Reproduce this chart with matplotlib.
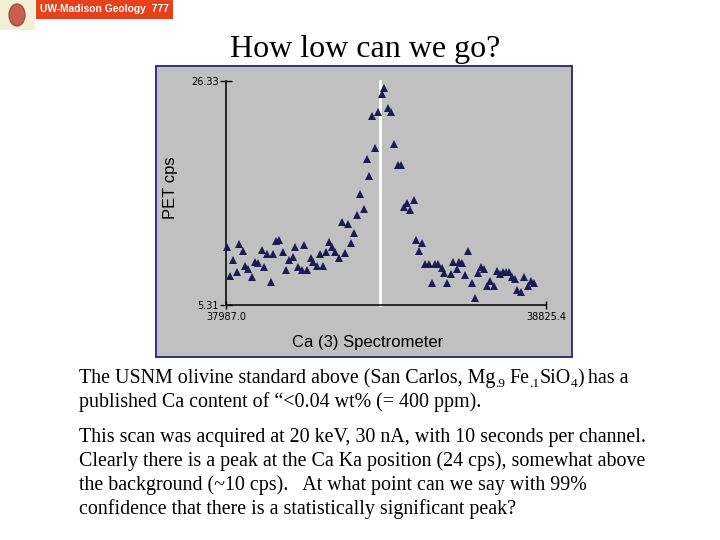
import matplotlib
matplotlib.use("Agg")
import matplotlib.pyplot as plt
from matplotlib.patches import Rectangle, Ellipse

# ---- data ----
spectrometer_pos = [
    37988.8, 37997.5, 38006.1, 38015.0, 38021.8, 38030.8, 38036.8, 38045.4, 38055.9, 38063.0,
    38071.6, 38080.5, 38086.6, 38093.6, 38104.1, 38110.9, 38118.0, 38126.6, 38135.6, 38144.2,
    38152.8, 38161.8, 38168.6, 38176.4, 38185.3, 38192.1, 38200.0, 38208.9, 38215.7, 38224.6,
    38233.3, 38240.4, 38249.0, 38256.9, 38264.7, 38272.6, 38282.3, 38290.1, 38298.8, 38306.6,
    38313.7, 38322.4, 38331.0, 38338.1, 38347.8, 38355.6, 38362.4, 38370.3, 38378.2, 38385.2,
    38396.5, 38401.7, 38410.7, 38419.3, 38428.0, 38436.9, 38445.5, 38453.4, 38462.0, 38469.9,
    38478.8, 38484.8, 38493.4, 38501.3, 38509.2, 38518.1, 38525.9, 38533.8, 38543.2, 38552.1,
    38558.2, 38566.8, 38575.7, 38582.5, 38591.4, 38598.2, 38606.1, 38614.0, 38621.8, 38630.7,
    38638.6, 38648.0, 38655.1, 38663.7, 38671.6, 38678.7, 38688.4, 38697.0, 38704.1, 38712.0,
    38719.8, 38728.5, 38735.5, 38744.2, 38750.2, 38759.1, 38767.8, 38777.5, 38786.1, 38794.0,
]
pet_cps = [
    10.77, 8.03, 9.53, 8.37, 11.03, 10.37, 8.96, 8.68, 7.91, 9.37,
    9.22, 10.46, 8.84, 10.09, 7.44, 10.09, 11.31, 11.40, 10.25, 8.59,
    9.53, 9.78, 10.72, 8.84, 8.59, 10.93, 8.59, 9.69, 9.37, 8.96,
    10.09, 8.96, 10.31, 11.19, 10.72, 10.25, 9.69, 13.06, 10.21, 12.87,
    11.09, 12.03, 13.74, 15.71, 14.28, 18.96, 17.43, 23.05, 19.99, 23.37,
    25.11, 25.62, 23.74, 23.37, 20.37, 18.40, 18.40, 14.52, 14.84, 14.21,
    15.15, 11.40, 10.40, 11.09, 9.15, 9.15, 7.34, 9.15, 9.15, 8.75,
    8.28, 7.40, 8.19, 9.31, 8.68, 9.31, 9.22, 8.12, 10.37, 7.34,
    5.94, 8.28, 8.90, 8.66, 7.12, 7.56, 7.12, 8.52, 8.19, 8.43,
    8.37, 8.37, 7.96, 7.72, 6.72, 6.56, 7.91, 7.09, 7.59, 7.40,
]
peak_position = 38390.5
x_limits = [37987.0, 38825.4]
y_limits = [5.31, 26.33]
x_tick_labels = ["37987.0", "38825.4"]
y_tick_labels = ["5.31", "26.33"]

title = "How low can we go?"
badge_text = "UW-Madison Geology  777"
# first line: (text, is_subscript, extra gap before in px)
para1_line1 = [
    ("The USNM olivine standard above (San Carlos, Mg", False, 0),
    (".9", True, 0),
    ("Fe", False, 4),
    (".1", True, 0),
    ("SiO", False, 0),
    ("4", True, 0),
    (")", False, 0),
    ("has a", False, 4),
]
para1_line2 = "published Ca content of \u201c<0.04 wt% (= 400 ppm)."
para2 = [
    "This scan was acquired at 20 keV, 30 nA, with 10 seconds per channel.",
    "Clearly there is a peak at the Ca Ka position (24 cps), somewhat above",
    "the background (~10 cps).   At what point can we say with 99%",
    "confidence that there is a statistically significant peak?",
]

W, H = 720, 540
fig = plt.figure(figsize=(7.2, 5.4), dpi=100)
fig.patch.set_facecolor("white")
renderer = fig.canvas.get_renderer()

def fx(px):
    return px / W

def fy(py):
    return 1 - py / H

# badge / logo
fig.patches.append(Rectangle((fx(36), fy(19)), fx(173) - fx(36), fy(0) - fy(19),
                             transform=fig.transFigure, facecolor="#e8401a",
                             edgecolor="none", zorder=-5))
fig.text(fx(40), fy(9.5), badge_text, color="white", fontsize=7.4, fontweight="bold",
         family="Liberation Sans", ha="left", va="center")
fig.patches.append(Rectangle((fx(0), fy(30)), fx(35), fy(0) - fy(30),
                             transform=fig.transFigure, facecolor="#f2efd6",
                             edgecolor="none", zorder=-5))
fig.patches.append(Ellipse((fx(17), fy(15)), fx(16), fy(0) - fy(22),
                           transform=fig.transFigure, facecolor="#c0392b",
                           edgecolor="#7a4a3a", alpha=0.8, zorder=-4))

# title
fig.text(fx(365), fy(50), title, family="Liberation Serif", fontsize=23,
         ha="center", va="center", color="black")

# gray panel behind the plot
fig.patches.append(Rectangle((fx(156), fy(357)), fx(572) - fx(156), fy(66) - fy(357),
                             transform=fig.transFigure, facecolor="#c0c0c0",
                             edgecolor="#23237a", linewidth=1.3, zorder=-5))

ax = fig.add_axes([fx(226), fy(305), fx(546) - fx(226), fy(80.7) - fy(305)])
ax.set_facecolor("none")
ax.set_xlim(x_limits)
ax.set_ylim(y_limits)

ax.plot([peak_position, peak_position], y_limits, color="white", linewidth=2.0,
        zorder=2, clip_on=False)
ax.plot(spectrometer_pos, pet_cps, linestyle="none", marker="^", markersize=5.2,
        color="#1b1b55", markeredgewidth=0, zorder=3, clip_on=False)

for s in ["top", "right"]:
    ax.spines[s].set_visible(False)
for s in ["left", "bottom"]:
    ax.spines[s].set_color("black")
    ax.spines[s].set_linewidth(1.1)

ax.set_yticks(y_limits)
ax.set_yticklabels(y_tick_labels)
ax.set_xticks(x_limits)
ax.set_xticklabels(x_tick_labels)
ax.tick_params(axis="y", direction="inout", length=8, width=1, pad=1, labelsize=7,
               colors="black")
ax.tick_params(axis="x", direction="inout", length=6, width=1, pad=2, labelsize=7,
               colors="black")

fig.text(fx(170), fy(188), "PET cps", family="Liberation Sans", fontsize=12,
         rotation=90, ha="center", va="center", color="black")
fig.text(fx(368), fy(342), "Ca (3) Spectrometer", family="Liberation Sans", fontsize=12,
         ha="center", va="center", color="black")

# body text
body_size = 14.4
sub_size = 9.5
x_px = 79
b = 383
for txt, is_sub, gap in para1_line1:
    x_px += gap
    t = fig.text(fx(x_px), fy(b + (4 if is_sub else 0)), txt, family="Liberation Serif",
                 fontsize=sub_size if is_sub else body_size,
                 ha="left", va="baseline", color="black")
    bb = t.get_window_extent(renderer)
    x_px = bb.x1

fig.text(fx(79), fy(407), para1_line2, family="Liberation Serif", fontsize=body_size,
         ha="left", va="baseline", color="black")
for line, bl in zip(para2, [442, 466, 490, 514]):
    fig.text(fx(79), fy(bl), line, family="Liberation Serif", fontsize=body_size,
             ha="left", va="baseline", color="black")

fig.savefig("out.png", dpi=100)
